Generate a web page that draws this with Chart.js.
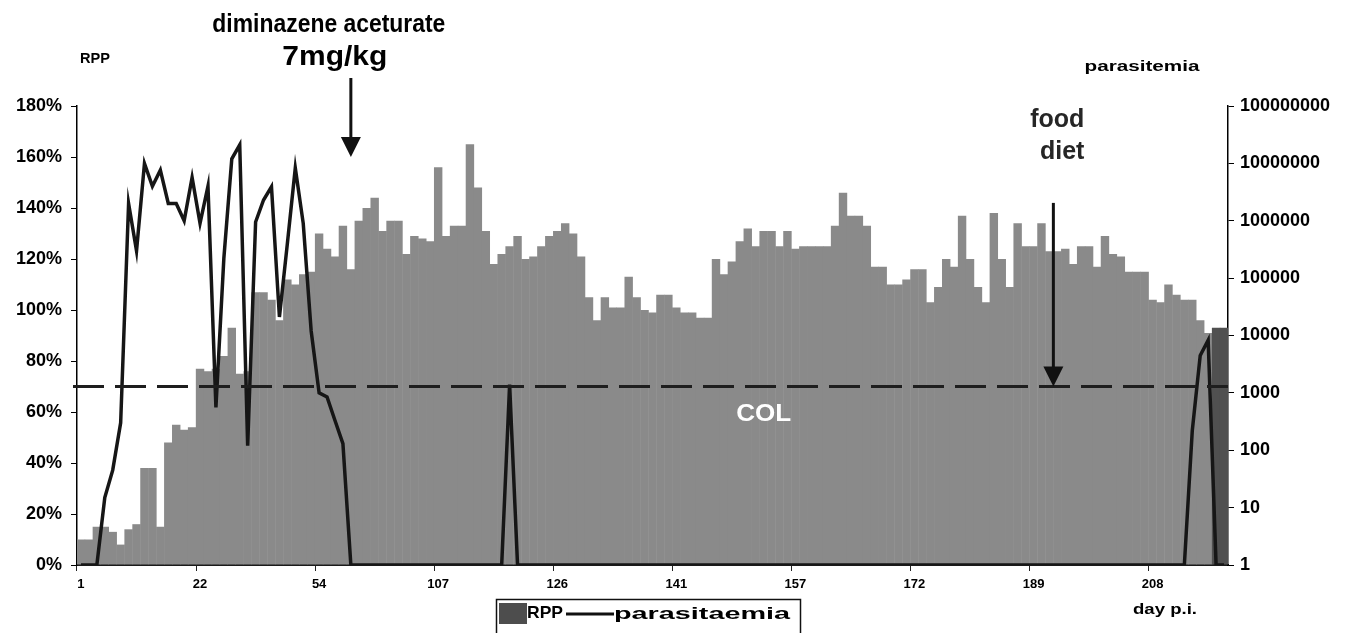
<!DOCTYPE html>
<html>
<head>
<meta charset="utf-8">
<script src="https://cdn.jsdelivr.net/npm/chart.js@4.4.1/dist/chart.umd.min.js"></script>
<style>
    html, body { margin: 0; padding: 0; background: #fff; }
    #wrap { width: 1363px; height: 633px; }
</style>
</head>
<body>
<div id="wrap"><canvas id="rppChart" width="1363" height="633"></canvas></div>
<script>
// RPP (bars, left axis) and parasitaemia (line, log right axis) per sampling day

// day labels shown every 15th sample
const tickDays = ['1', '22', '54', '107', '126', '141', '157', '172', '189', '208'];
const labelEvery = 15;

// relative packed cell volume, % of baseline
const rppValues = [
    10, 10, 15, 15, 13, 8, 14, 16, 38, 38,
    15, 48, 55, 53, 54, 77, 76, 77, 82, 93,
    75, 76, 107, 107, 104, 96, 112, 110, 114, 115,
    130, 124, 121, 133, 116, 135, 140, 144, 131, 135,
    135, 122, 129, 128, 127, 156, 129, 133, 133, 165,
    148, 131, 118, 122, 125, 129, 120, 121, 125, 129,
    131, 134, 130, 121, 105, 96, 105, 101, 101, 113,
    105, 100, 99, 106, 106, 101, 99, 99, 97, 97,
    120, 114, 119, 127, 132, 125, 131, 131, 125, 131,
    124, 125, 125, 125, 125, 133, 146, 137, 137, 133,
    117, 117, 110, 110, 112, 116, 116, 103, 109, 120,
    117, 137, 120, 109, 103, 138, 120, 109, 134, 125,
    125, 134, 123, 123, 124, 118, 125, 125, 117, 129,
    122, 121, 115, 115, 115, 104, 103, 110, 106, 104,
    104, 96, 91, 93, 93
];

// parasites per ml (1 = none detected)
const parasitaemia = [
    1, 1, 1, 15, 45, 300, 2000000, 300000, 10000000, 4000000,
    7600000, 2000000, 2000000, 1000000, 5700000, 900000, 4000000, 560, 220000, 12000000,
    21000000, 120, 950000, 2300000, 3900000, 21000, 400000, 8300000, 900000, 12000,
    1000, 850, 330, 130, 1, 1, 1, 1, 1, 1,
    1, 1, 1, 1, 1, 1, 1, 1, 1, 1,
    1, 1, 1, 1, 1400, 1, 1, 1, 1, 1,
    1, 1, 1, 1, 1, 1, 1, 1, 1, 1,
    1, 1, 1, 1, 1, 1, 1, 1, 1, 1,
    1, 1, 1, 1, 1, 1, 1, 1, 1, 1,
    1, 1, 1, 1, 1, 1, 1, 1, 1, 1,
    1, 1, 1, 1, 1, 1, 1, 1, 1, 1,
    1, 1, 1, 1, 1, 1, 1, 1, 1, 1,
    1, 1, 1, 1, 1, 1, 1, 1, 1, 1,
    1, 1, 1, 1, 1, 1, 1, 1, 1, 1,
    220, 4500, 8300, 1, 1
];

const rightTicks = [1, 10, 100, 1000, 10000, 100000, 1000000, 10000000, 100000000];

// reference levels / annotation anchors (sample index, % value)
const COL_LEVEL = 70;
const COL_LABEL_INDEX = 86;
const COL_LABEL_LEVEL = 59;
const DRUG_INDEX = 34;
const DRUG_TIP_LEVEL = 160;
const FOOD_INDEX = 122;
const FOOD_TOP_LEVEL = 142;

const dayLabels = rppValues.map((_, i) => (i % labelEvery === 0 ? tickDays[i / labelEvery] : ''));

const FONT = '"Liberation Sans", Arial, sans-serif';

// draw text, optionally squeezed/stretched to a given width (the scan is distorted)
function drawText(ctx, text, x, y, size, align, width, color) {
    ctx.save();
    ctx.font = 'bold ' + size + 'px ' + FONT;
    ctx.fillStyle = color || '#000';
    ctx.textBaseline = 'middle';
    ctx.textAlign = align;
    const w = ctx.measureText(text).width;
    ctx.translate(x, y);
    ctx.scale(width ? width / w : 1, 1);
    ctx.fillText(text, 0, 0);
    ctx.restore();
}

function drawArrow(ctx, x, yTop, yTip) {
    ctx.save();
    ctx.strokeStyle = '#111';
    ctx.fillStyle = '#111';
    ctx.lineWidth = 3;
    ctx.beginPath();
    ctx.moveTo(x, yTop);
    ctx.lineTo(x, yTip - 16);
    ctx.stroke();
    ctx.beginPath();
    ctx.moveTo(x - 10, yTip - 20);
    ctx.lineTo(x + 10, yTip - 20);
    ctx.lineTo(x, yTip);
    ctx.closePath();
    ctx.fill();
    ctx.restore();
}

const annotationPlugin = {
    id: 'rppAnnotations',
    afterDatasetsDraw(chart) {
        const { ctx, chartArea, scales } = chart;
        const x = scales.x;
        const y = scales.y;

        // COL dashed line
        const colY = y.getPixelForValue(COL_LEVEL);
        ctx.save();
        ctx.strokeStyle = '#1e1e1e';
        ctx.lineWidth = 3;
        ctx.setLineDash([31, 11]);
        ctx.beginPath();
        ctx.moveTo(chartArea.left - 4, colY);
        ctx.lineTo(chartArea.right, colY);
        ctx.stroke();
        ctx.restore();

        drawText(ctx, 'COL', x.getPixelForValue(COL_LABEL_INDEX), y.getPixelForValue(COL_LABEL_LEVEL), 24, 'center', 55, '#fff');

        // treatment arrow
        const drugX = x.getPixelForValue(DRUG_INDEX);
        drawArrow(ctx, drugX, chartArea.top - 28, y.getPixelForValue(DRUG_TIP_LEVEL));
        drawText(ctx, 'diminazene aceturate', drugX - 22, 25, 26, 'center', 233);
        drawText(ctx, '7mg/kg', drugX - 16, 57, 28, 'center', 105);

        // diet arrow
        const foodX = (x.getPixelForValue(FOOD_INDEX) + x.getPixelForValue(FOOD_INDEX + 1)) / 2;
        drawArrow(ctx, foodX, y.getPixelForValue(FOOD_TOP_LEVEL), colY);
        drawText(ctx, 'food', foodX + 31, 120, 25, 'right', null, '#262626');
        drawText(ctx, 'diet', foodX + 31, 152, 25, 'right', null, '#262626');
    },
    afterDraw(chart) {
        const { ctx } = chart;

        // axis titles
        drawText(ctx, 'RPP', 95, 59, 14, 'center', 30);
        drawText(ctx, 'parasitemia', 1142, 67, 15, 'center', 115);
        drawText(ctx, 'day p.i.', 1165, 610, 15, 'center', 64);

        // legend box
        ctx.save();
        ctx.strokeStyle = '#111';
        ctx.lineWidth = 1.5;
        ctx.strokeRect(496.5, 599.5, 304, 45);
        ctx.fillStyle = '#4d4d4d';
        ctx.fillRect(499, 603, 28, 21);
        ctx.strokeStyle = '#111';
        ctx.lineWidth = 3;
        ctx.beginPath();
        ctx.moveTo(566, 614);
        ctx.lineTo(614, 614);
        ctx.stroke();
        ctx.restore();
        drawText(ctx, 'RPP', 527, 613, 17, 'left', 36);
        drawText(ctx, 'parasitaemia', 614, 614, 17, 'left', 176);
    }
};

const canvas = document.getElementById('rppChart');

window.rppChart = new Chart(canvas, {
    type: 'bar',
    data: {
        labels: dayLabels,
        datasets: [
            {
                type: 'line',
                label: 'parasitaemia',
                data: parasitaemia,
                yAxisID: 'y2',
                borderColor: '#161616',
                borderWidth: 3.5,
                pointRadius: 0,
                tension: 0,
                fill: false
            },
            {
                type: 'bar',
                label: 'RPP',
                data: rppValues,
                yAxisID: 'y',
                backgroundColor: ctx => (ctx.dataIndex >= rppValues.length - 2 ? '#505050' : '#8a8a8a'),
                borderWidth: 0,
                barPercentage: 1.0,
                categoryPercentage: 1.06
            }
        ]
    },
    options: {
        responsive: false,
        animation: false,
        layout: { padding: { top: 106, left: 0, right: 0, bottom: 0 } },
        plugins: {
            legend: { display: false },
            tooltip: { enabled: false }
        },
        scales: {
            x: {
                type: 'category',
                offset: true,
                grid: {
                    offset: true,
                    drawOnChartArea: false,
                    drawTicks: true,
                    tickLength: 6,
                    tickColor: ctx => (ctx.index % labelEvery === 0 ? '#222' : 'rgba(0,0,0,0)')
                },
                border: { color: '#1a1a1a', width: 2 },
                ticks: {
                    autoSkip: false,
                    maxRotation: 0,
                    minRotation: 0,
                    padding: 6,
                    color: '#000',
                    font: { family: FONT, size: 13, weight: 'bold' }
                },
                afterFit: s => { s.height = 68; }
            },
            y: {
                type: 'linear',
                position: 'left',
                min: 0,
                max: 180,
                grid: { drawOnChartArea: false, tickLength: 6, tickColor: '#000' },
                border: { color: '#000', width: 1.5 },
                ticks: {
                    stepSize: 20,
                    padding: 9,
                    color: '#000',
                    font: { family: FONT, size: 18, weight: 'bold' },
                    callback: v => v + '%'
                },
                afterFit: s => { s.width = 77; }
            },
            y2: {
                type: 'logarithmic',
                position: 'right',
                min: 1,
                max: 100000000,
                grid: { drawOnChartArea: false, tickLength: 6, tickColor: '#000' },
                border: { color: '#000', width: 1.5 },
                afterBuildTicks: s => { s.ticks = rightTicks.map(v => ({ value: v })); },
                ticks: {
                    padding: 6,
                    color: '#000',
                    font: { family: FONT, size: 18, weight: 'bold' },
                    callback: v => String(v)
                },
                afterFit: s => { s.width = 135; }
            }
        }
    },
    plugins: [annotationPlugin]
});
</script>
</body>
</html>
